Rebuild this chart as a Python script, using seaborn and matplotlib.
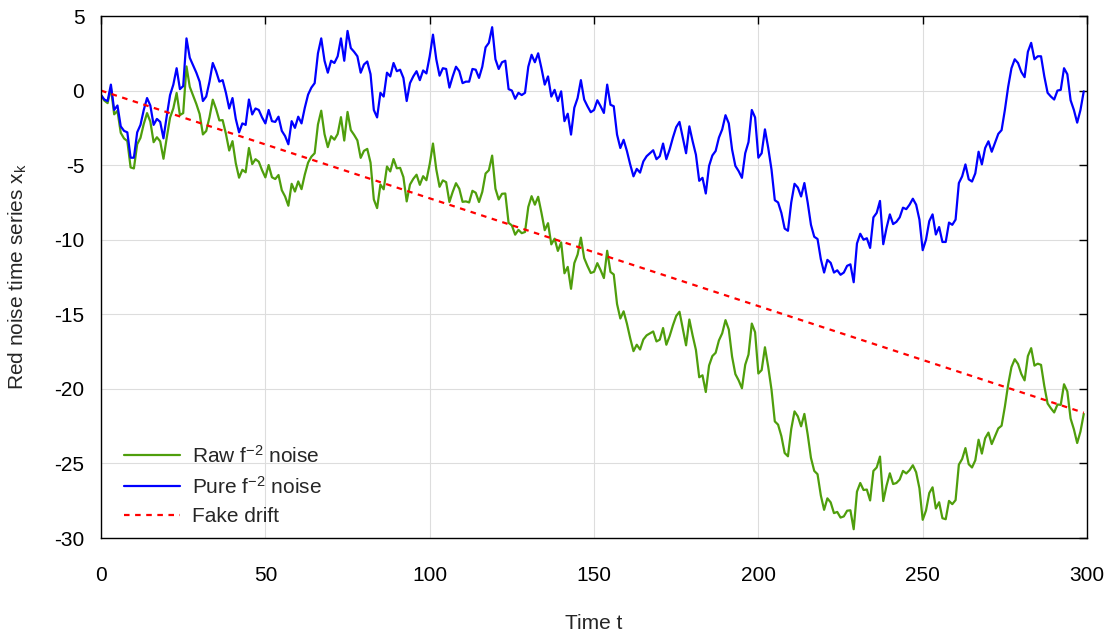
import numpy as np
import pandas as pd
import matplotlib
matplotlib.use("Agg")
import matplotlib.pyplot as plt
import seaborn as sns

# time axis (one sample per step)
time_t = np.arange(300)

# pure f^-2 noise (blue)
pure_noise = [
    -0.3, -0.6, -0.7, 0.4, -1.3, -1.0, -2.4, -2.7, -2.8, -4.5,
    -4.5, -2.8, -2.3, -1.3, -0.5, -1.0, -2.3, -1.9, -2.1, -3.2,
    -1.7, -0.3, 0.4, 1.5, 0.1, 0.3, 3.5, 2.2, 1.7, 1.2,
    0.6, -0.7, -0.4, 0.6, 1.85, 1.3, 0.6, 0.7, -0.15, -1.2,
    -0.5, -1.9, -2.8, -2.2, -2.3, -0.6, -1.6, -1.2, -1.3, -1.8,
    -2.2, -1.3, -2.05, -2.1, -1.75, -2.7, -3.05, -3.6, -2.05, -2.5,
    -1.75, -2.2, -1.15, -0.27, 0.2, 0.5, 2.5, 3.5, 2.0, 1.2,
    2.0, 1.85, 2.3, 3.5, 2.0, 4.0, 2.85, 2.6, 2.3, 1.2,
    1.75, 1.95, 1.1, -1.3, -1.8, -0.15, -0.4, 1.2, 0.95, 1.85,
    1.3, 1.4, 0.85, -0.7, 0.5, 0.95, 1.3, 0.7, 1.35, 1.15,
    2.3, 3.75, 2.1, 1.0, 1.5, 1.45, 0.2, 0.95, 1.6, 1.3,
    0.5, 0.6, 0.6, 1.45, 1.4, 0.85, 1.6, 2.9, 3.2, 4.25,
    2.1, 1.45, 1.9, 2.0, 0.1, 0.0, -0.55, -0.15, -0.3, -0.15,
    1.6, 2.4, 1.9, 2.5, 1.5, 0.4, 0.95, -0.4, 0.05, -0.7,
    -0.05, -2.05, -1.55, -2.95, -1.15, -0.5, 0.7, -0.6, -1.05, -1.45,
    -1.3, -0.65, -1.05, -1.5, 0.4, -0.95, -1.05, -2.95, -3.85, -3.3,
    -4.05, -4.95, -5.75, -5.25, -5.5, -4.75, -4.4, -4.2, -4.0, -4.6,
    -4.4, -3.55, -4.6, -3.95, -3.15, -2.45, -2.1, -3.15, -4.2, -2.4,
    -3.4, -4.3, -6.05, -5.85, -6.9, -5.05, -4.35, -4.05, -3.15, -2.6,
    -1.65, -2.2, -3.95, -5.05, -5.4, -5.85, -4.2, -3.45, -1.3, -1.8,
    -4.5, -4.2, -2.6, -3.85, -5.3, -7.35, -7.5, -8.2, -9.25, -9.4,
    -7.5, -6.25, -6.5, -7.1, -6.2, -7.5, -9.0, -9.8, -9.95, -11.3,
    -12.2, -11.35, -11.55, -12.2, -12.05, -12.35, -12.2, -11.75, -11.65, -12.85,
    -10.25, -9.6, -10.0, -9.9, -10.55, -8.5, -8.2, -7.4, -10.3, -9.2,
    -8.3, -8.95, -8.8, -8.5, -7.85, -7.95, -7.65, -7.25, -7.65, -8.65,
    -10.7, -10.0, -8.75, -8.3, -9.65, -9.15, -10.15, -10.15, -8.85, -9.0,
    -8.65, -6.2, -5.75, -4.95, -5.95, -6.1, -5.55, -4.1, -4.95, -3.85,
    -3.4, -4.1, -3.5, -2.9, -2.65, -1.3, 0.25, 1.5, 2.1, 1.85,
    1.25, 0.9, 2.6, 3.2, 2.1, 2.3, 2.3, 0.95, -0.15, -0.4,
    -0.6, 0.0, 0.05, 1.5, 1.1, -0.65, -1.3, -2.15, -1.3, -0.05,
]

# raw f^-2 noise (green)
raw_noise = [
    -0.3, -0.67, -0.84, 0.18, -1.59, -1.36, -2.83, -3.21, -3.38, -5.15,
    -5.22, -3.60, -3.17, -2.24, -1.51, -2.08, -3.46, -3.13, -3.40, -4.57,
    -3.15, -1.82, -1.19, -0.16, -1.64, -1.51, 1.62, 0.25, -0.33, -0.90,
    -1.57, -2.94, -2.71, -1.79, -0.61, -1.23, -2.00, -1.98, -2.90, -4.02,
    -3.39, -4.87, -5.84, -5.31, -5.48, -3.85, -4.93, -4.60, -4.77, -5.34,
    -5.82, -4.99, -5.81, -5.93, -5.66, -6.68, -7.10, -7.72, -6.25, -6.77,
    -6.09, -6.61, -5.63, -4.83, -4.43, -4.20, -2.27, -1.35, -2.92, -3.79,
    -3.06, -3.29, -2.91, -1.78, -3.35, -1.43, -2.65, -2.97, -3.34, -4.51,
    -4.04, -3.91, -4.83, -7.30, -7.88, -6.30, -6.62, -5.09, -5.42, -4.59,
    -5.21, -5.18, -5.80, -7.43, -6.30, -5.92, -5.64, -6.32, -5.74, -6.01,
    -4.93, -3.55, -5.28, -6.45, -6.02, -6.14, -7.47, -6.79, -6.21, -6.58,
    -7.46, -7.43, -7.50, -6.72, -6.85, -7.47, -6.79, -5.56, -5.34, -4.36,
    -6.58, -7.30, -6.92, -6.90, -8.87, -9.04, -9.66, -9.34, -9.56, -9.48,
    -7.80, -7.08, -7.65, -7.12, -8.19, -9.36, -8.89, -10.31, -9.93, -10.75,
    -10.18, -12.25, -11.82, -13.29, -11.57, -10.99, -9.86, -11.23, -11.76, -12.23,
    -12.15, -11.57, -12.04, -12.57, -10.74, -12.16, -12.33, -14.31, -15.28, -14.80,
    -15.62, -16.60, -17.47, -17.04, -17.36, -16.69, -16.41, -16.28, -16.15, -16.82,
    -16.70, -15.92, -17.04, -16.46, -15.74, -15.11, -14.83, -15.95, -17.08, -15.35,
    -16.42, -17.39, -19.22, -19.09, -20.21, -18.43, -17.80, -17.58, -16.75, -16.27,
    -15.39, -16.02, -17.84, -19.01, -19.43, -19.96, -18.38, -17.70, -15.62, -16.20,
    -18.97, -18.74, -17.21, -18.53, -20.06, -22.18, -22.40, -23.17, -24.30, -24.52,
    -22.69, -21.51, -21.84, -22.51, -21.68, -23.05, -24.63, -25.50, -25.72, -27.14,
    -28.11, -27.34, -27.61, -28.33, -28.25, -28.63, -28.55, -28.17, -28.14, -29.41,
    -26.89, -26.31, -26.78, -26.75, -27.48, -25.50, -25.27, -24.54, -27.52, -26.49,
    -25.66, -26.38, -26.31, -26.08, -25.50, -25.67, -25.45, -25.12, -25.59, -26.66,
    -28.78, -28.16, -26.98, -26.60, -28.02, -27.60, -28.67, -28.74, -27.51, -27.73,
    -27.46, -25.08, -24.70, -23.97, -25.05, -25.27, -24.79, -23.41, -24.34, -23.31,
    -22.93, -23.70, -23.17, -22.65, -22.47, -21.19, -19.71, -18.54, -18.01, -18.33,
    -19.00, -19.43, -17.80, -17.27, -18.44, -18.31, -18.39, -19.81, -20.98, -21.30,
    -21.58, -21.05, -21.07, -19.69, -20.17, -21.99, -22.71, -23.63, -22.86, -21.68,
]

# fake drift line (end points)
drift_t = [0, 299]
drift_y = [0.0, -21.6]

x_ticks = [0, 50, 100, 150, 200, 250, 300]
y_ticks = [5, 0, -5, -10, -15, -20, -25, -30]

sns.set_style("white")
plt.rcParams["font.family"] = ["Liberation Sans", "DejaVu Sans"]
plt.rcParams["axes.unicode_minus"] = False
plt.rcParams["mathtext.fontset"] = "custom"
plt.rcParams["mathtext.rm"] = "Liberation Sans"
plt.rcParams["mathtext.it"] = "Liberation Sans"

fs = 15

fig = plt.figure(figsize=(11.09, 6.38), dpi=100)
ax = fig.add_axes([0.0911, 0.1567, 0.8891, 0.8182])

sns.lineplot(x=time_t, y=raw_noise, color="#4f9e0c", linewidth=1.6,
             label=r"Raw f$^{-2}$ noise", ax=ax)
sns.lineplot(x=time_t, y=pure_noise, color="#0000ff", linewidth=1.6,
             label=r"Pure f$^{-2}$ noise", ax=ax)
sns.lineplot(x=drift_t, y=drift_y, color="#ff0000", linewidth=1.6,
             linestyle=(0, (2.5, 2.5)), label="Fake drift", ax=ax)

ax.set_xlim(0, 300)
ax.set_ylim(-30, 5)
ax.set_xticks(x_ticks)
ax.set_yticks(y_ticks)
ax.grid(True, color="#dddddd", linewidth=0.8)
for sp in ax.spines.values():
    sp.set_color("black")
    sp.set_linewidth(1.0)
ax.tick_params(direction="in", length=6, width=1, top=True, right=True,
               labelsize=fs, colors="black")
ax.tick_params(axis="x", pad=20)
ax.tick_params(axis="y", pad=12)

ax.set_xlabel("Time t", fontsize=fs)
ax.set_ylabel(r"Red noise time series x$_{\mathregular{k}}$", fontsize=fs)
ax.xaxis.set_label_coords(0.5, -0.145)
ax.yaxis.set_label_coords(-0.073, 0.5)

ax.legend(loc="lower left", bbox_to_anchor=(0.004, -0.013), frameon=False,
          fontsize=fs, handlelength=2.7, labelspacing=0.45, handletextpad=0.6)

fig.savefig("out.png", dpi=100)
